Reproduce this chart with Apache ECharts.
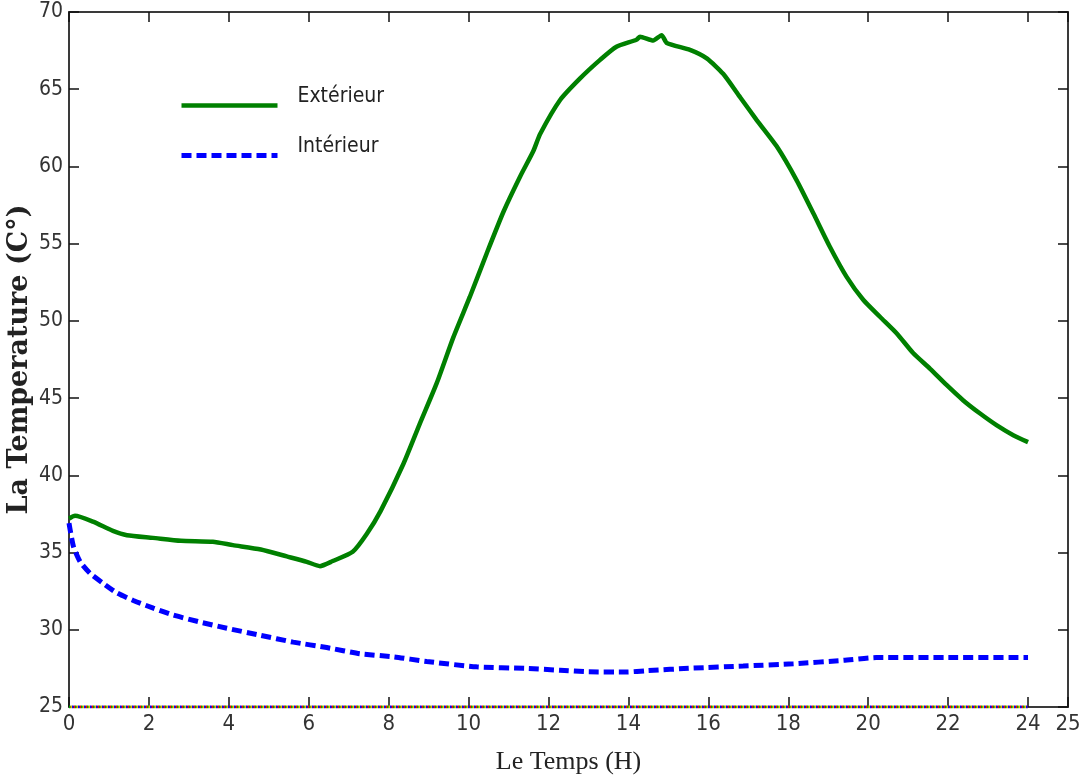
<!DOCTYPE html>
<html>
<head>
<meta charset="utf-8">
<title>Température extérieure et intérieure</title>
<script src="https://cdn.jsdelivr.net/npm/echarts@6/dist/echarts.min.js"></script>
<style>
  html, body { margin: 0; padding: 0; background: #fff; }
  #chart { width: 1082px; height: 784px; }
</style>
</head>
<body>
<div id="chart"></div>
<script>
// Outdoor temperature over the day (hours, °C)
const extHours = [0, 0.15, 0.6, 1.1, 1.45, 2.1, 2.8, 3.6, 4.1, 4.8, 5.45, 5.95, 6.28, 6.6, 7.1, 7.45, 7.8,
  8.37, 8.78, 9.2, 9.62, 10.03, 10.45, 10.87, 11.29, 11.62, 11.79, 12.29, 12.79, 13.29, 13.7, 14.2, 14.29,
  14.62, 14.83, 14.96, 15.54, 15.96, 16.37, 16.79, 17.21, 17.71, 18.21, 18.63, 19.04, 19.46, 19.88, 20.3,
  20.71, 21.13, 21.55, 21.96, 22.38, 22.8, 23.21, 23.63, 24];
const extTemp = [37.2, 37.38, 37.0, 36.4, 36.12, 35.95, 35.76, 35.7, 35.48, 35.2, 34.75, 34.4, 34.12, 34.45, 35.05, 36.2, 37.7,
  40.75, 43.35, 45.95, 48.95, 51.55, 54.35, 57.05, 59.35, 61.0, 62.1, 64.3, 65.7, 66.9, 67.75, 68.2, 68.4,
  68.15, 68.5, 68.0, 67.55, 67.0, 66.0, 64.5, 63.0, 61.3, 59.1, 56.95, 54.8, 52.85, 51.35, 50.25,
  49.2, 47.9, 46.9, 45.85, 44.85, 44.0, 43.25, 42.6, 42.15];

// Indoor temperature over the day (hours, °C)
const intHours = [0, 0.11, 0.28, 0.53, 0.86, 1.19, 1.61, 2.11, 2.61, 3.28, 3.95, 4.78, 5.61, 6.45, 7.28, 8.12,
  8.95, 10.2, 11.45, 12.29, 13.0, 13.96, 14.46, 15.62, 16.87, 18.13, 19.38, 20.2, 22, 24];
const intTemp = [36.9, 35.4, 34.4, 33.65, 33.0, 32.4, 31.9, 31.4, 30.95, 30.5, 30.1, 29.65, 29.2, 28.85, 28.45, 28.25,
  27.95, 27.6, 27.5, 27.38, 27.28, 27.27, 27.35, 27.52, 27.65, 27.8, 28.02, 28.2, 28.2, 28.2];

// Reference level traces lying on the lower bound of the temperature scale
const baseHours = [0, 24];
const baseTemp = [25, 25];
const baseColors = ['#00a000', '#ff0000', '#0000ff', '#e0c000'];

const seriesNames = ['Extérieur', 'Intérieur'];

const xTickLabels = { min: 0, max: 25, interval: 2 };
const yTickLabels = { min: 25, max: 70, interval: 5 };

const zip = (xs, ys) => xs.map((x, i) => [x, ys[i]]);

const tickFont = "'Liberation Sans Narrow', 'Arial Narrow', 'DejaVu Sans Condensed', sans-serif";
const axisColor = '#3a3a3a';

const frameAxis = (extra) => Object.assign({
  type: 'value',
  axisLine: { show: true, onZero: false, lineStyle: { color: axisColor, width: 2 } },
  axisTick: { show: true, inside: true, length: 10, lineStyle: { color: '#111', width: 1.5 } },
  splitLine: { show: false },
}, extra);

const baseSeries = baseColors.map((c, i) => ({
  name: 'base' + i,
  type: 'line',
  data: zip(baseHours, baseTemp),
  symbol: 'none',
  silent: true,
  z: 1,
  lineStyle: { color: c, width: 3, type: [1.5, 4.5], dashOffset: i * 1.5 }
}));

const chart = echarts.init(document.getElementById('chart'), null, { renderer: 'canvas' });
chart.setOption({
  animation: false,
  backgroundColor: '#ffffff',
  grid: { left: 69, right: 14, top: 12, bottom: 77, containLabel: false, outerBoundsMode: 'none' },
  legend: {
    data: seriesNames,
    orient: 'vertical',
    left: 179,
    top: 86,
    padding: 0,
    itemWidth: 96,
    itemHeight: 16,
    itemGap: 11,
    formatter: '{name}\n',
    itemStyle: { opacity: 0 },
    lineStyle: { width: 'inherit', type: 'inherit' },
    textStyle: {
      fontFamily: tickFont,
      fontSize: 21,
      lineHeight: 18,
      color: '#222',
      padding: [0, 0, 0, 15]
    }
  },
  xAxis: [
    frameAxis({
      position: 'bottom',
      min: xTickLabels.min, max: xTickLabels.max, interval: xTickLabels.interval,
      name: 'Le Temps (H)',
      nameLocation: 'middle',
      nameGap: 42,
      nameMoveOverlap: false,
      nameTextStyle: { fontFamily: "'Liberation Serif', 'Times New Roman', serif", fontSize: 26, color: '#222' },
      axisLabel: { fontFamily: tickFont, fontSize: 22, color: '#333', margin: 6 }
    }),
    frameAxis({
      position: 'top',
      min: xTickLabels.min, max: xTickLabels.max, interval: xTickLabels.interval,
      axisLabel: { show: false }
    })
  ],
  yAxis: [
    frameAxis({
      position: 'left',
      min: yTickLabels.min, max: yTickLabels.max, interval: yTickLabels.interval,
      name: 'La Temperature (C°)',
      nameLocation: 'middle',
      nameGap: 36,
      nameMoveOverlap: false,
      nameTextStyle: { fontFamily: "'DejaVu Serif', 'Liberation Serif', serif", fontWeight: 'bold', fontSize: 27, color: '#222' },
      axisLabel: { fontFamily: tickFont, fontSize: 21, color: '#333', margin: 6 }
    }),
    frameAxis({
      position: 'right',
      min: yTickLabels.min, max: yTickLabels.max, interval: yTickLabels.interval,
      axisLabel: { show: false }
    })
  ],
  series: [
    ...baseSeries,
    {
      name: seriesNames[0],
      type: 'line',
      data: zip(extHours, extTemp),
      symbol: 'none',
      smooth: 0.2,
      z: 3,
      color: '#008000',
      lineStyle: { color: '#008000', width: 4.5 }
    },
    {
      name: seriesNames[1],
      type: 'line',
      data: zip(intHours, intTemp),
      symbol: 'none',
      smooth: 0.2,
      z: 3,
      color: '#0000ff',
      lineStyle: { color: '#0000ff', width: 5, type: [10, 5], cap: 'butt' }
    }
  ]
});
</script>
</body>
</html>
